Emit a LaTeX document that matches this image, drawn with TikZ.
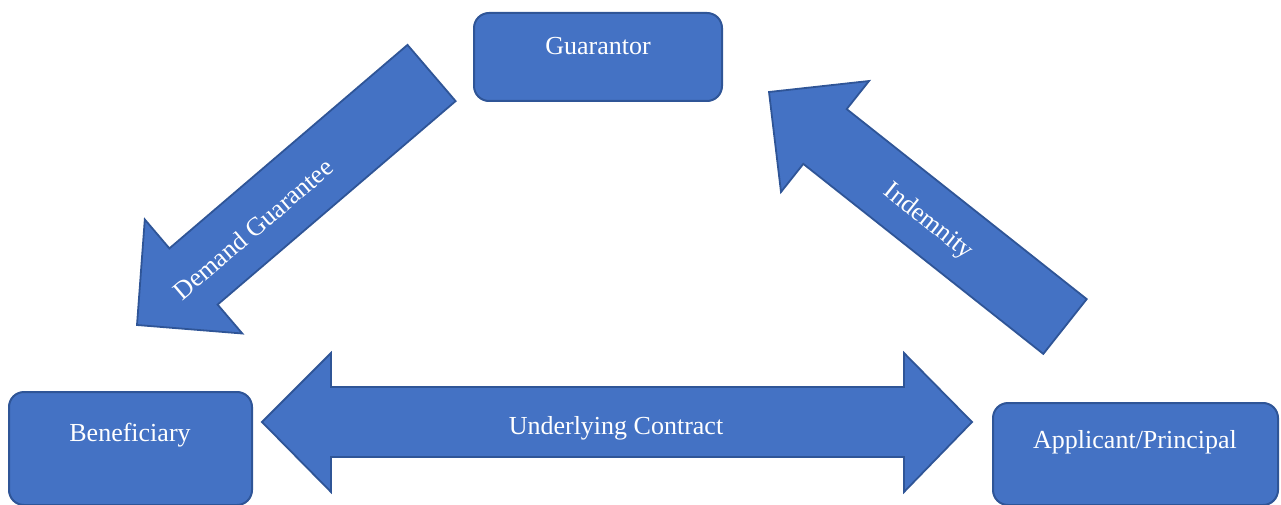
\documentclass[tikz,border=0pt]{standalone}
\usepackage{fontspec}
\setmainfont{Liberation Serif}
\definecolor{fillc}{HTML}{4472C4}
\definecolor{bordc}{HTML}{2F5597}
\begin{document}
\begin{tikzpicture}[x=1pt,y=-1pt,
  box/.style={draw=bordc, fill=fillc, line width=2pt, rounded corners=15pt, inner sep=0pt},
  blockarrow/.style={draw=bordc, fill=fillc, line width=1.8pt, line join=miter},
  lbl/.style={text=white, font=\fontsize{26}{30}\selectfont, inner sep=0pt}]
\path[use as bounding box] (0,0) rectangle (1281,505);
\clip (0,0) rectangle (1281,505);
% boxes
\node[box, minimum width=248pt, minimum height=88pt] (guar) at (598,57) {};
\node[lbl] (guart) at (598,46) {Guarantor};
\node[box, minimum width=243pt, minimum height=113pt] (bene) at (130.5,448.5) {};
\node[lbl] (benet) at (130,435) {Beneficiary};
\node[box, minimum width=285pt, minimum height=102pt] (appl) at (1135.5,454) {};
\node[lbl] (applt) at (1135,442) {Applicant/Principal};
% Demand Guarantee arrow
\draw[blockarrow] (407.5,44.9) -- (169.4,248.4) -- (144.8,219.5) -- (137,325)
  -- (242.3,333.5) -- (217.6,304.6) -- (455.6,101.1) -- cycle;
\node[lbl, rotate=40.5] (dg) at (253,229) {Demand Guarantee};
% Indemnity arrow
\draw[blockarrow] (1086.7,299.1) -- (846.7,109.1) -- (869,81) -- (769,92)
  -- (781,192) -- (803.3,163.9) -- (1043.3,353.9) -- cycle;
\node[lbl, rotate=-38.4] (ind) at (928,222) {Indemnity};
% Underlying Contract double arrow
\draw[blockarrow] (262,422) -- (331,353) -- (331,387) -- (904,387) -- (904,353)
  -- (972,422) -- (904,492) -- (904,457) -- (331,457) -- (331,492) -- cycle;
\node[lbl] (uc) at (616,428) {Underlying Contract};
\end{tikzpicture}
\end{document}
